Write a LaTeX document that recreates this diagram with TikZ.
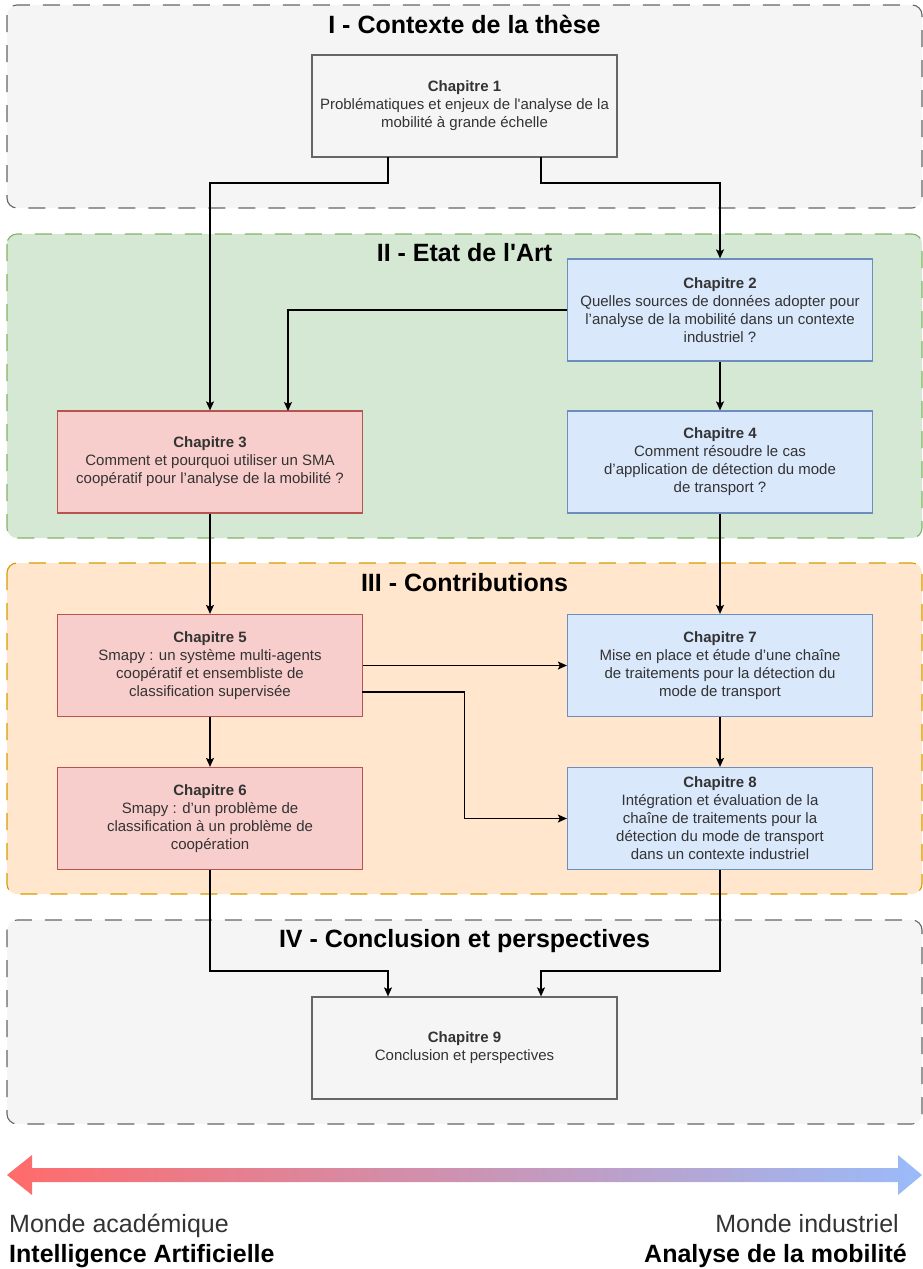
\documentclass[tikz,border=0pt]{standalone}
\usepackage{fontspec}
\setmainfont{Liberation Sans}
% same face without the TeX input mapping, for straight apostrophes
\newfontfamily\plainsans{Liberation Sans}
\newcommand{\sq}{{\plainsans'}}
\usetikzlibrary{arrows.meta,calc}

\definecolor{greyfill}{HTML}{F5F5F5}
\definecolor{greyline}{HTML}{666666}
\definecolor{greenfill}{HTML}{D5E8D4}
\definecolor{greenline}{HTML}{82B366}
\definecolor{orangefill}{HTML}{FFE6CC}
\definecolor{orangeline}{HTML}{D79B00}
\definecolor{redfill}{HTML}{F8CECC}
\definecolor{redline}{HTML}{B85450}
\definecolor{bluefill}{HTML}{DAE8FC}
\definecolor{blueline}{HTML}{6C8EBF}
\definecolor{txt}{HTML}{333333}
\definecolor{leftend}{HTML}{FF6B6B}
\definecolor{rightend}{HTML}{99BBFA}

\tikzset{
  section/.style={rounded corners=10pt, line width=1.1pt, dash pattern=on 17pt off 13pt},
  sectitle/.style={font=\bfseries\fontsize{25}{30}\selectfont, text=black, inner sep=0pt},
  chapbox/.style={draw, line width=1.25pt, minimum width=305pt, minimum height=102pt,
    inner sep=0pt, align=center, text=txt, font=\fontsize{15}{18}\selectfont},
  greybox/.style={chapbox, fill=greyfill, draw=greyline},
  redbox/.style={chapbox, fill=redfill, draw=redline},
  bluebox/.style={chapbox, fill=bluefill, draw=blueline},
  link/.style={line width=1.25pt, -{Stealth[length=9pt,width=8pt,inset=2pt]}},
  foot/.style={inner sep=0pt, font=\fontsize{25}{30}\selectfont}
}

\begin{document}
\begin{tikzpicture}[x=1pt,y=-1pt]
\useasboundingbox (0,0) rectangle (923,1269);

% ---- section frames ----
\draw[section, fill=greyfill, draw=greyline] (7,5) rectangle (922,208);
\draw[section, fill=greenfill, draw=greenline] (7,234) rectangle (922,538);
\draw[section, fill=orangefill, draw=orangeline] (7,563) rectangle (922,894);
\draw[section, fill=greyfill, draw=greyline] (7,920) rectangle (922,1124);

\node[sectitle] (t1) at (464.5,24) {I - Contexte de la thèse};
\node[sectitle] (t2) at (464.5,253) {II - Etat de l\sq Art};
\node[sectitle] (t3) at (464.5,583) {III - Contributions};
\node[sectitle] (t4) at (464.5,941) {IV - Conclusion et perspectives};

% ---- chapters ----
\node[greybox] (ch1) at (464.5,106) {\textbf{Chapitre 1}\\Problématiques et enjeux de l\sq analyse de la\\mobilité à grande échelle};
\node[bluebox] (ch2) at (720,310) {\textbf{Chapitre 2}\\Quelles sources de données adopter pour\\l'analyse de la mobilité dans un contexte\\industriel ?};
\node[redbox] (ch3) at (210,462) {\textbf{Chapitre 3}\\Comment et pourquoi utiliser un SMA\\coopératif pour l'analyse de la mobilité ?};
\node[bluebox] (ch4) at (720,462) {\textbf{Chapitre 4}\\Comment résoudre le cas\\d'application de détection du mode\\de transport ?};
\node[redbox] (ch5) at (210,665.5) {\textbf{Chapitre 5}\\Smapy : un système multi-agents\\coopératif et ensembliste de\\classification supervisée};
\node[bluebox] (ch7) at (720,665.5) {\textbf{Chapitre 7}\\Mise en place et étude d'une chaîne\\de traitements pour la détection du\\mode de transport};
\node[redbox] (ch6) at (210,818.5) {\textbf{Chapitre 6}\\Smapy : d'un problème de\\classification à un problème de\\coopération};
\node[bluebox] (ch8) at (720,818.5) {\textbf{Chapitre 8}\\Intégration et évaluation de la\\chaîne de traitements pour la\\détection du mode de transport\\dans un contexte industriel};
\node[greybox] (ch9) at (464.5,1048) {\textbf{Chapitre 9}\\Conclusion et perspectives};

% ---- connectors ----
\coordinate (c1l) at (388,157);
\coordinate (c1r) at (541,157);
\coordinate (c2k) at (288,411);
\coordinate (c5k) at (362,692);
\coordinate (c5b) at (464.5,692);
\coordinate (c9l) at (388,971);
\coordinate (c9r) at (541,971);

\draw[link] (c1l) -- ++(0,26) -| (ch3.north);
\draw[link] (c1r) -- ++(0,26) -| (ch2.north);
\draw[link] (ch2.west) -| (c2k);
\draw[link] (ch2) -- (ch4);
\draw[link] (ch3) -- (ch5);
\draw[link] (ch4) -- (ch7);
\draw[link] (ch5) -- (ch6);
\draw[link] (ch7) -- (ch8);
\draw[link] (ch5.east) -- (ch7.west);
\draw[link] (c5k) -- (c5b) |- (ch8.west);
\draw[link] (ch6.south) |- (c9l) -- (ch9.north -| c9l);
\draw[link] (ch8.south) |- (c9r) -- (ch9.north -| c9r);

% ---- academic / industrial axis ----
\shade[left color=leftend, right color=rightend]
  (7,1175) -- (32,1155) -- (32,1168) -- (898,1168) -- (898,1155) -- (922,1175)
  -- (898,1195) -- (898,1182) -- (32,1182) -- (32,1195) -- cycle;

\node[foot, anchor=base west, text=txt] (acad) at (9,1232) {Monde académique};
\node[foot, anchor=base west, text=black, font=\bfseries\fontsize{25}{30}\selectfont] (ia) at (9,1262) {Intelligence Artificielle};
\node[foot, anchor=base east, text=txt] (indus) at (899,1232) {Monde industriel};
\node[foot, anchor=base east, text=black, font=\bfseries\fontsize{25}{30}\selectfont] (mob) at (907,1262) {Analyse de la mobilité};
\end{tikzpicture}
\end{document}
